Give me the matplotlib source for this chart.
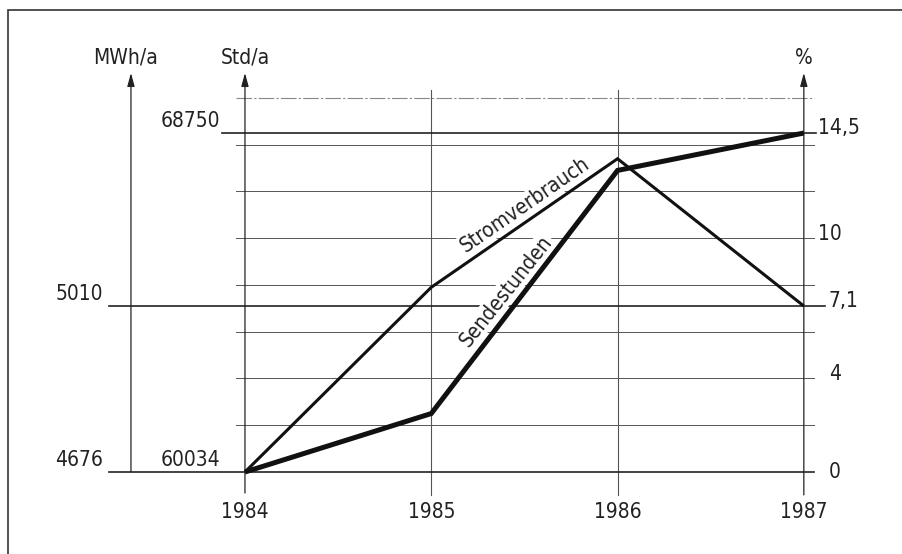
import matplotlib
matplotlib.use("Agg")
import matplotlib.pyplot as plt
import math

# Daten (Prozent-Zuwachs gegenueber 1984)
jahre = [1984, 1985, 1986, 1987]
strom_prozent = [0, 7.9, 13.4, 7.1]      # Stromverbrauch
sende_prozent = [0, 2.5, 12.9, 14.5]     # Sendestunden

mwh_werte = ["4676", "5010"]             # linke Achse MWh/a
mwh_prozent = [0, 7.1]
std_werte = ["60034", "68750"]           # Achse Std/a
std_prozent = [0, 14.5]
proz_labels = ["0", "4", "7,1", "10", "14,5"]
proz_werte = [0, 4, 7.1, 10, 14.5]
raster = [2, 4, 6, 8, 10, 12, 14]        # Rasterlinien in %

plt.rcParams['font.family'] = ['DejaVu Sans']
plt.rcParams['font.stretch'] = 'condensed'
fig = plt.figure(figsize=(9.02, 5.54), dpi=100)
ax = fig.add_axes([0, 0, 1, 1])
ax.set_xlim(1982.685, 1987.527)
ax.set_ylim(-3.508, 20.19)
ax.axis("off")

dunkel = "#222222"
grau = "#555555"
fs = 15

# Rahmen
ax.plot([0.009, 0.009, 1.0], [0.0, 0.982, 0.982], transform=ax.transAxes,
        color="#333333", lw=1.2, solid_joinstyle="miter")

# Rasterlinien
x0, x1 = jahre[0] - 0.05, jahre[-1] + 0.055
for r in raster:
    ax.plot([x0, x1], [r, r], color=grau, lw=0.7, zorder=1)
ax.plot([x0, x1], [16, 16], color="#888888", lw=0.8, ls=(0, (14, 2, 2, 2)), zorder=1)

# Bezugslinien
ax.plot([1983.27, x1], [0, 0], color=dunkel, lw=1.2, zorder=2)
ax.plot([1983.27, 1987.113], [mwh_prozent[1]] * 2, color=dunkel, lw=1.2, zorder=2)
ax.plot([1983.877, 1987.065], [std_prozent[1]] * 2, color=dunkel, lw=1.2, zorder=2)

# senkrechte Linien
for j in jahre[1:3]:
    ax.plot([j, j], [-0.98, 16.34], color=grau, lw=0.8, zorder=1)

# Achsen mit Pfeilen
pfeil = dict(arrowstyle="-|>,head_length=0.8,head_width=0.22", lw=0.9,
             color=dunkel, shrinkA=0, shrinkB=0, mutation_scale=10)
x_mwh = 1983.388
ax.annotate("", xy=(x_mwh, 17.07), xytext=(x_mwh, 0), arrowprops=pfeil, zorder=3)
ax.annotate("", xy=(jahre[0], 17.07), xytext=(jahre[0], -0.9), arrowprops=pfeil, zorder=3)
ax.annotate("", xy=(jahre[-1], 17.07), xytext=(jahre[-1], -0.98), arrowprops=pfeil, zorder=3)

ax.text(x_mwh - 0.03, 17.71, "MWh/a", ha="center", va="center", fontsize=fs, color=dunkel)
ax.text(jahre[0], 17.71, "Std/a", ha="center", va="center", fontsize=fs, color=dunkel)
ax.text(jahre[-1], 17.71, "%", ha="center", va="center", fontsize=fs, color=dunkel)

# Beschriftung der Werte
for lab, p in zip(mwh_werte, mwh_prozent):
    ax.text(1983.238, p + 0.1, lab, ha="right", va="bottom", fontsize=fs, color=dunkel)
for lab, p in zip(std_werte, std_prozent):
    ax.text(1983.866, p + 0.1, lab, ha="right", va="bottom", fontsize=fs, color=dunkel)
for lab, p in zip(proz_labels, proz_werte):
    xl = 1987.075 if lab in ("10", "14,5") else 1987.135
    dy = 0.0 if p == 0 else 0.2
    ax.text(xl, p + dy, lab, ha="left", va="center", fontsize=fs, color=dunkel)

for j in jahre:
    ax.text(j, -1.72, str(j), ha="center", va="center", fontsize=fs, color=dunkel)

# Kurven
ax.plot(jahre, strom_prozent, color="#111111", lw=2.2, zorder=5,
        solid_joinstyle="miter", solid_capstyle="butt")
ax.plot(jahre, sende_prozent, color="#111111", lw=3.6, zorder=5,
        solid_joinstyle="miter", solid_capstyle="butt")

# Kurvenbeschriftung entlang der Linien
def winkel(xs, ys):
    p0 = ax.transData.transform((xs[0], ys[0]))
    p1 = ax.transData.transform((xs[1], ys[1]))
    return math.degrees(math.atan2(p1[1] - p0[1], p1[0] - p0[0]))

w_strom = winkel(jahre[1:3], strom_prozent[1:3])
w_sende = winkel(jahre[1:3], sende_prozent[1:3]) - 1
ax.text(1985.503, 11.42, "Stromverbrauch", rotation=w_strom, ha="center", va="center",
        fontsize=fs, color=dunkel, zorder=4, rotation_mode="anchor",
        bbox=dict(facecolor="white", edgecolor="none", pad=1))
ax.text(1985.401, 7.74, "Sendestunden", rotation=w_sende, ha="center", va="center",
        fontsize=fs, color=dunkel, zorder=4, rotation_mode="anchor",
        bbox=dict(facecolor="white", edgecolor="none", pad=1))

fig.savefig("out.png", dpi=100)
